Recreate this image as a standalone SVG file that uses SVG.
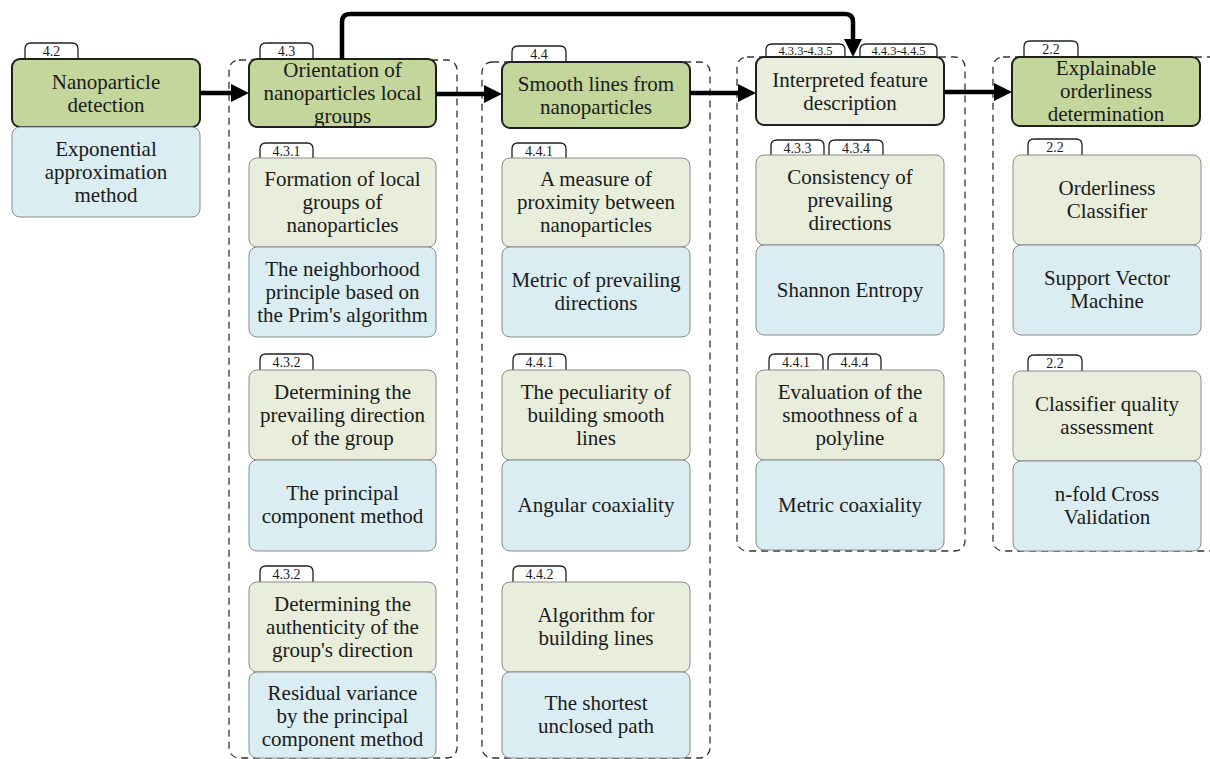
<svg xmlns="http://www.w3.org/2000/svg" width="1210" height="759" viewBox="0 0 1210 759">
<style>
text{font-family:"Liberation Serif","DejaVu Serif",serif;fill:#1a1a1a;text-anchor:middle}
.t{font-size:21px}
.tg{font-size:14px}
.tgs{font-size:12.5px}
.main{fill:#C3D69B;stroke:#1f1f1f;stroke-width:2}
.mainl{fill:#E8EEDB;stroke:#1f1f1f;stroke-width:2}
.g{fill:#E8EEDB;stroke:#8a8a8a;stroke-width:1}
.b{fill:#DAEDF3;stroke:#8a8a8a;stroke-width:1}
.tab{fill:#fff;stroke:#1f1f1f;stroke-width:1.3}
.cont{fill:none;stroke:#333;stroke-width:1.3;stroke-dasharray:7 5}
.conn{fill:none;stroke:#000;stroke-width:4.5}
.ah{fill:#000}
</style>
<rect width="1210" height="759" fill="#fff"/>
<g id="containers">
<rect class="cont" x="229" y="60" width="228" height="698" rx="10"/>
<rect class="cont" x="482" y="62" width="228" height="696" rx="10"/>
<rect class="cont" x="737" y="57" width="228" height="494" rx="10"/>
<rect class="cont" x="993" y="57" width="240" height="494" rx="10"/>
</g>
<g id="col1">
<g id="n42"><path class="tab" d="M25,59 V49 Q25,43 31,43 H72 Q78,43 78,49 V59"/><text class="tg" x="51.5" y="56">4.2</text>
<rect class="main" x="12" y="59" width="188" height="68" rx="8"/><text class="t"><tspan x="106" y="89">Nanoparticle</tspan><tspan x="106" y="112">detection</tspan></text></g>
<g id="n42b"><rect class="b" x="12" y="127" width="188" height="90" rx="8"/><text class="t"><tspan x="106" y="156">Exponential</tspan><tspan x="106" y="179">approximation</tspan><tspan x="106" y="202">method</tspan></text></g>
</g>
<g id="col2">
<g id="n43"><path class="tab" d="M260,59 V49 Q260,43 266,43 H307 Q313,43 313,49 V59"/><text class="tg" x="286.5" y="56">4.3</text>
<rect class="main" x="249" y="59" width="187" height="68" rx="8"/><text class="t"><tspan x="342.5" y="77">Orientation of</tspan><tspan x="342.5" y="100">nanoparticles local</tspan><tspan x="342.5" y="123">groups</tspan></text></g>
<g id="n431"><path class="tab" d="M260,158 V149 Q260,143 266,143 H307 Q313,143 313,149 V158"/><text class="tg" x="286.5" y="156">4.3.1</text>
<rect class="g" x="249" y="158" width="187" height="89" rx="8"/><text class="t"><tspan x="342.5" y="186">Formation of local</tspan><tspan x="342.5" y="209">groups of</tspan><tspan x="342.5" y="232">nanoparticles</tspan></text></g>
<g id="n431b"><rect class="b" x="249" y="247" width="187" height="90" rx="8"/><text class="t"><tspan x="342.5" y="276">The neighborhood</tspan><tspan x="342.5" y="299">principle based on</tspan><tspan x="342.5" y="322">the Prim's algorithm</tspan></text></g>
<g id="n432"><path class="tab" d="M260,370 V360 Q260,354 266,354 H307 Q313,354 313,360 V370"/><text class="tg" x="286.5" y="367">4.3.2</text>
<rect class="g" x="249" y="370" width="187" height="90" rx="8"/><text class="t"><tspan x="342.5" y="399">Determining the</tspan><tspan x="342.5" y="422">prevailing direction</tspan><tspan x="342.5" y="445">of the group</tspan></text></g>
<g id="n432b"><rect class="b" x="249" y="460" width="187" height="91" rx="8"/><text class="t"><tspan x="342.5" y="500">The principal</tspan><tspan x="342.5" y="523">component method</tspan></text></g>
<g id="n432c"><path class="tab" d="M260,582 V572 Q260,566 266,566 H307 Q313,566 313,572 V582"/><text class="tg" x="286.5" y="579">4.3.2</text>
<rect class="g" x="249" y="582" width="187" height="90" rx="8"/><text class="t"><tspan x="342.5" y="611">Determining the</tspan><tspan x="342.5" y="634">authenticity of the</tspan><tspan x="342.5" y="657">group's direction</tspan></text></g>
<g id="n432d"><rect class="b" x="249" y="672" width="187" height="86" rx="8"/><text class="t"><tspan x="342.5" y="700">Residual variance</tspan><tspan x="342.5" y="723">by the principal</tspan><tspan x="342.5" y="746">component method</tspan></text></g>
</g>
<g id="col3">
<g id="n44"><path class="tab" d="M512,62 V52 Q512,46 518,46 H560 Q566,46 566,52 V62"/><text class="tg" x="539" y="59">4.4</text>
<rect class="main" x="502" y="62" width="188" height="66" rx="8"/><text class="t"><tspan x="596" y="91">Smooth lines from</tspan><tspan x="596" y="114">nanoparticles</tspan></text></g>
<g id="n441"><path class="tab" d="M512,158 V149 Q512,143 518,143 H560 Q566,143 566,149 V158"/><text class="tg" x="539" y="156">4.4.1</text>
<rect class="g" x="502" y="158" width="188" height="89" rx="8"/><text class="t"><tspan x="596" y="186">A measure of</tspan><tspan x="596" y="209">proximity between</tspan><tspan x="596" y="232">nanoparticles</tspan></text></g>
<g id="n441b"><rect class="b" x="502" y="247" width="188" height="90" rx="8"/><text class="t"><tspan x="596" y="287">Metric of prevailing</tspan><tspan x="596" y="310">directions</tspan></text></g>
<g id="n441c"><path class="tab" d="M513,370 V360 Q513,354 519,354 H560 Q566,354 566,360 V370"/><text class="tg" x="539.5" y="367">4.4.1</text>
<rect class="g" x="502" y="370" width="188" height="90" rx="8"/><text class="t"><tspan x="596" y="399">The peculiarity of</tspan><tspan x="596" y="422">building smooth</tspan><tspan x="596" y="445">lines</tspan></text></g>
<g id="n441d"><rect class="b" x="502" y="460" width="188" height="91" rx="8"/><text class="t"><tspan x="596" y="512">Angular coaxiality</tspan></text></g>
<g id="n442"><path class="tab" d="M513,582 V572 Q513,566 519,566 H560 Q566,566 566,572 V582"/><text class="tg" x="539.5" y="579">4.4.2</text>
<rect class="g" x="502" y="582" width="188" height="90" rx="8"/><text class="t"><tspan x="596" y="622">Algorithm for</tspan><tspan x="596" y="645">building lines</tspan></text></g>
<g id="n442b"><rect class="b" x="502" y="672" width="188" height="86" rx="8"/><text class="t"><tspan x="596" y="710">The shortest</tspan><tspan x="596" y="733">unclosed path</tspan></text></g>
</g>
<g id="col4">
<g id="nfeat"><path class="tab" d="M766,57 V50 Q766,44 772,44 H839 Q845,44 845,50 V57"/><text class="tgs" x="805.5" y="55">4.3.3-4.3.5</text>
<path class="tab" d="M860,57 V50 Q860,44 866,44 H931 Q937,44 937,50 V57"/><text class="tgs" x="898.5" y="55">4.4.3-4.4.5</text>
<rect class="mainl" x="756" y="57" width="188" height="68" rx="8"/><text class="t"><tspan x="850" y="87">Interpreted feature</tspan><tspan x="850" y="110">description</tspan></text></g>
<g id="n433"><path class="tab" d="M771,155 V146 Q771,140 777,140 H818 Q824,140 824,146 V155"/><text class="tg" x="797.5" y="153">4.3.3</text>
<path class="tab" d="M829,155 V146 Q829,140 835,140 H877 Q883,140 883,146 V155"/><text class="tg" x="856" y="153">4.3.4</text>
<rect class="g" x="756" y="155" width="188" height="90" rx="8"/><text class="t"><tspan x="850" y="184">Consistency of</tspan><tspan x="850" y="207">prevailing</tspan><tspan x="850" y="230">directions</tspan></text></g>
<g id="n433b"><rect class="b" x="756" y="245" width="188" height="90" rx="8"/><text class="t"><tspan x="850" y="297">Shannon Entropy</tspan></text></g>
<g id="n444"><path class="tab" d="M769,370 V360 Q769,354 775,354 H817 Q823,354 823,360 V370"/><text class="tg" x="796" y="367">4.4.1</text>
<path class="tab" d="M828,370 V360 Q828,354 834,354 H875 Q881,354 881,360 V370"/><text class="tg" x="854.5" y="367">4.4.4</text>
<rect class="g" x="756" y="370" width="188" height="90" rx="8"/><text class="t"><tspan x="850" y="399">Evaluation of the</tspan><tspan x="850" y="422">smoothness of a</tspan><tspan x="850" y="445">polyline</tspan></text></g>
<g id="n444b"><rect class="b" x="756" y="460" width="188" height="90" rx="8"/><text class="t"><tspan x="850" y="512">Metric coaxiality</tspan></text></g>
</g>
<g id="col5">
<g id="n22"><path class="tab" d="M1024,57 V47 Q1024,41 1030,41 H1072 Q1078,41 1078,47 V57"/><text class="tg" x="1051" y="54">2.2</text>
<rect class="main" x="1012" y="57" width="188" height="69" rx="8"/><text class="t"><tspan x="1106" y="75">Explainable</tspan><tspan x="1106" y="98">orderliness</tspan><tspan x="1106" y="121">determination</tspan></text></g>
<g id="n22a"><path class="tab" d="M1028,155 V145 Q1028,139 1034,139 H1076 Q1082,139 1082,145 V155"/><text class="tg" x="1055" y="152">2.2</text>
<rect class="g" x="1013" y="155" width="188" height="90" rx="8"/><text class="t"><tspan x="1107" y="195">Orderliness</tspan><tspan x="1107" y="218">Classifier</tspan></text></g>
<g id="n22b"><rect class="b" x="1013" y="245" width="188" height="90" rx="8"/><text class="t"><tspan x="1107" y="285">Support Vector</tspan><tspan x="1107" y="308">Machine</tspan></text></g>
<g id="n22c"><path class="tab" d="M1028,371 V361 Q1028,355 1034,355 H1076 Q1082,355 1082,361 V371"/><text class="tg" x="1055" y="368">2.2</text>
<rect class="g" x="1013" y="371" width="188" height="90" rx="8"/><text class="t"><tspan x="1107" y="411">Classifier quality</tspan><tspan x="1107" y="434">assessment</tspan></text></g>
<g id="n22d"><rect class="b" x="1013" y="461" width="188" height="90" rx="8"/><text class="t"><tspan x="1107" y="501">n-fold Cross</tspan><tspan x="1107" y="524">Validation</tspan></text></g>
</g>
<g id="connectors">
<path class="conn" d="M200,93 H236"/>
<path class="ah" d="M231,84 L249,93 L231,102 z"/>
<path class="conn" d="M436,94 H489"/>
<path class="ah" d="M484,85 L502,94 L484,103 z"/>
<path class="conn" d="M690,93 H743"/>
<path class="ah" d="M738,84 L756,93 L738,102 z"/>
<path class="conn" d="M944,92 H999"/>
<path class="ah" d="M994,83 L1012,92 L994,101 z"/>
<path class="conn" d="M342,59 V22 Q342,14 350,14 H845 Q853,14 853,22 V44"/>
<path class="ah" d="M844,39 L853,57 L862,39 z"/>
</g>
</svg>
